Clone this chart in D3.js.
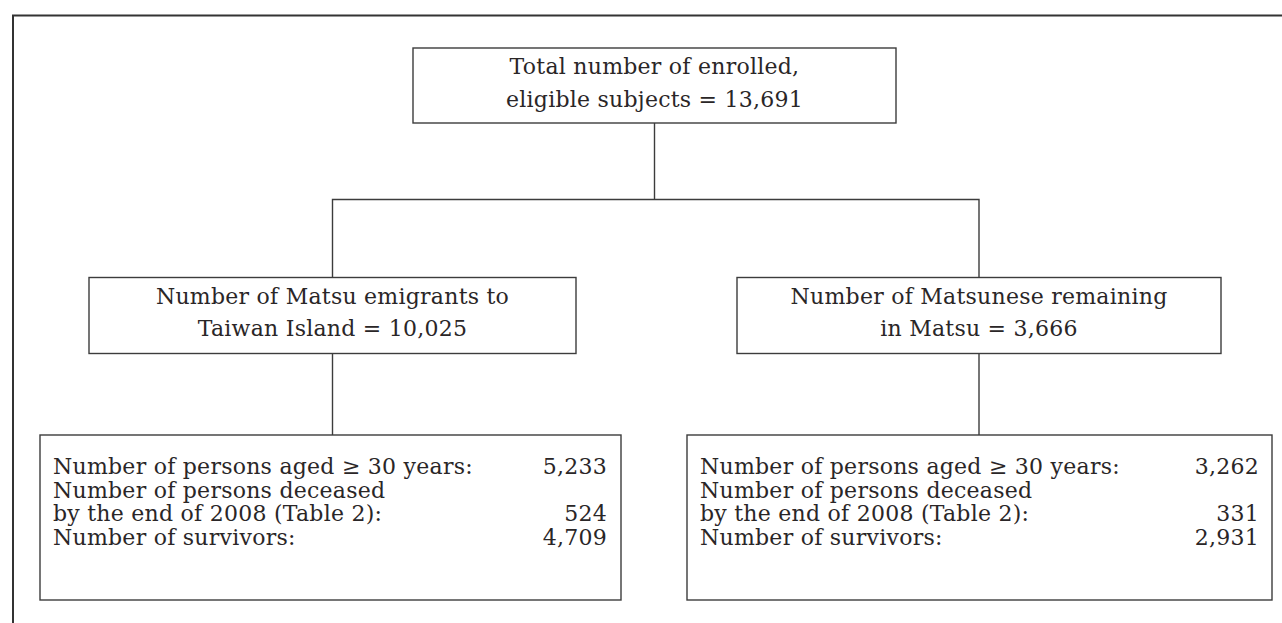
<!DOCTYPE html>
<html>
<head>
<meta charset="utf-8">
<script src="https://cdn.jsdelivr.net/npm/d3@7"></script>
<style>
  html, body { margin: 0; padding: 0; background: #fff; }
  svg { display: block; }
  text { font-family: "DejaVu Serif", "Liberation Serif", serif; fill: #2a2627; letter-spacing: 0.25px; }
</style>
</head>
<body>
<svg id="chart" width="1282" height="623"></svg>
<script>
// ---- data ----
const totalSubjects = 13691;
const topLines = ["Total number of enrolled,", "eligible subjects = "];
const groupLines = [["Number of Matsu emigrants to", "Taiwan Island = "],
                    ["Number of Matsunese remaining", "in Matsu = "]];
const groupTotals = [10025, 3666];
const rowLabels = ["Number of persons aged \u2265 30 years:",
                   "Number of persons deceased",
                   "by the end of 2008 (Table 2):",
                   "Number of survivors:"];
const aged30 = [5233, 3262];
const deceased = [524, 331];
const survivors = [4709, 2931];

// ---- layout ----
const fmt = d3.format(",");
const svg = d3.select("#chart");
const fs = 22;
const lineColor = "#3c3c3c";

// outer frame (open on right/bottom as in the original)
svg.append("path")
  .attr("d", d3.line()([[1282, 15.5], [13, 15.5], [13, 623]]))
  .attr("fill", "none").attr("stroke", "#333").attr("stroke-width", 2);

const topBox = {x0: 413, x1: 896, y0: 48, y1: 123};
const midBoxes = [{x0: 89, x1: 576, y0: 277.5, y1: 353.5}, {x0: 737, x1: 1221, y0: 277.5, y1: 353.5}];
const botBoxes = [{x0: 40, x1: 621, y0: 435, y1: 600}, {x0: 687, x1: 1272, y0: 435, y1: 600}];

function box(b) {
  svg.append("rect").attr("x", b.x0).attr("y", b.y0)
    .attr("width", b.x1 - b.x0).attr("height", b.y1 - b.y0)
    .attr("fill", "#fff").attr("stroke", lineColor).attr("stroke-width", 1.4);
}
function seg(pts) {
  svg.append("path").attr("d", d3.line()(pts))
    .attr("fill", "none").attr("stroke", lineColor).attr("stroke-width", 1.4);
}

// connectors
const topCx = (topBox.x0 + topBox.x1) / 2;
const midCx = midBoxes.map(b => (b.x0 + b.x1) / 2);
const busY = 199.5;
seg([[topCx, topBox.y1], [topCx, busY]]);
seg([[midCx[0], midBoxes[0].y0], [midCx[0], busY], [midCx[1], busY], [midCx[1], midBoxes[1].y0]]);
midBoxes.forEach((b, i) => seg([[midCx[i], b.y1], [midCx[i], botBoxes[i].y0]]));

// boxes
box(topBox);
midBoxes.forEach(box);
botBoxes.forEach(box);

// top box text
const topText = [topLines[0], topLines[1] + fmt(totalSubjects)];
[74, 106.5].forEach((y, i) => {
  svg.append("text").attr("x", topCx).attr("y", y)
    .attr("text-anchor", "middle").attr("font-size", fs).text(topText[i]);
});

// group boxes text
groupLines.forEach((lines, g) => {
  const t = [lines[0], lines[1] + fmt(groupTotals[g])];
  [303.5, 336].forEach((y, i) => {
    svg.append("text").attr("x", midCx[g]).attr("y", y)
      .attr("text-anchor", "middle").attr("font-size", fs).text(t[i]);
  });
});

// bottom boxes text
const rowY = [474, 497.5, 521, 544.5];
const labelX = [53, 700];
const valueX = [607, 1259];
botBoxes.forEach((b, g) => {
  rowLabels.forEach((lab, i) => {
    svg.append("text").attr("x", labelX[g]).attr("y", rowY[i])
      .attr("font-size", fs).text(lab);
  });
  const vals = [aged30[g], null, deceased[g], survivors[g]];
  vals.forEach((v, i) => {
    if (v == null) return;
    svg.append("text").attr("x", valueX[g]).attr("y", rowY[i])
      .attr("text-anchor", "end").attr("font-size", fs).text(fmt(v));
  });
});
</script>
</body>
</html>
